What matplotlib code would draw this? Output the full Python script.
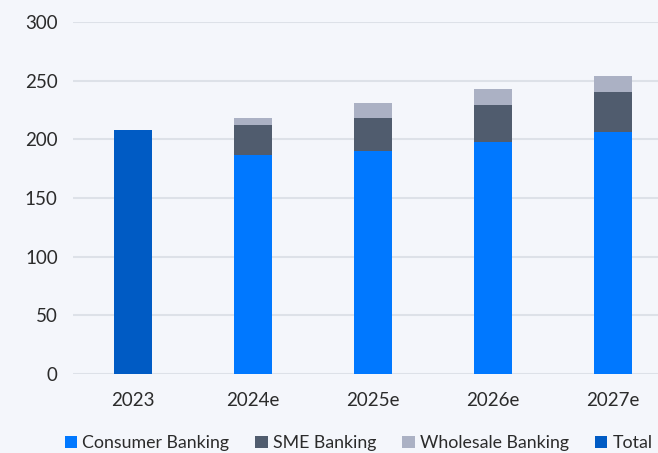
import matplotlib
matplotlib.use("Agg")
import matplotlib.pyplot as plt
import numpy as np

# Revenue split by segment, 2023 actual total then estimates
years = ["2023", "2024e", "2025e", "2026e", "2027e"]
total_2023 = [208]
consumer = [187, 190, 198, 206]
sme = [25, 28, 31.5, 34]
wholesale = [6, 13, 13, 14]

C_CONSUMER = "#0078FF"
C_SME = "#505C6E"
C_WHOLESALE = "#ABB1C4"
C_TOTAL = "#005BC4"
BG = "#F4F6FB"
GRID = "#DDE1E8"
TEXT = "#2B2B2B"

plt.rcParams["font.family"] = ["Lato", "DejaVu Sans"]

fig = plt.figure(figsize=(6.58, 4.53), dpi=100, facecolor=BG)
ax = fig.add_axes([73 / 658, 1 - 374 / 453, 600 / 658, 352 / 453], facecolor=BG)

x = np.arange(len(years))
w = 0.32
est = x[1:]
ax.bar(x[:1], total_2023, w, color=C_TOTAL, label="Total", zorder=3)
ax.bar(est, consumer, w, color=C_CONSUMER, label="Consumer Banking", zorder=3)
ax.bar(est, sme, w, bottom=consumer, color=C_SME, label="SME Banking", zorder=3)
base = np.array(consumer) + np.array(sme)
ax.bar(est, wholesale, w, bottom=base, color=C_WHOLESALE, label="Wholesale Banking", zorder=3)

ax.set_xlim(-0.5, 4.5)
ax.set_ylim(0, 300)
ax.set_yticks(range(0, 301, 50))
ax.set_xticks(x)
ax.set_xticklabels(years)
ax.grid(axis="y", color=GRID, linewidth=1.5, zorder=0)
for s in ax.spines.values():
    s.set_visible(False)
ax.tick_params(length=0, labelsize=13.5, labelcolor=TEXT)
ax.tick_params(axis="x", pad=13)
ax.tick_params(axis="y", pad=11)

handles, labels = ax.get_legend_handles_labels()
order = [1, 2, 3, 0]
fig.legend([handles[i] for i in order], [labels[i] for i in order],
           loc="center", bbox_to_anchor=(0.545, 1 - 443 / 453), ncol=4,
           frameon=False, fontsize=12.8, handlelength=0.7, handleheight=0.7,
           handletextpad=0.3, columnspacing=1.45, labelcolor=TEXT)

fig.savefig("out.png", dpi=100, facecolor=BG)
